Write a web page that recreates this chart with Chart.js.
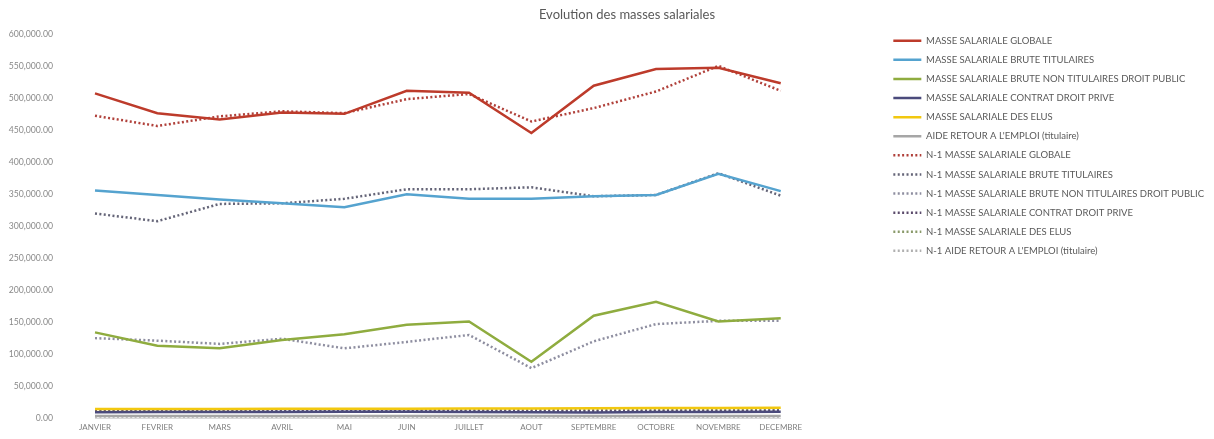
<!DOCTYPE html>
<html lang="fr">
<head>
<meta charset="UTF-8">
<title>Evolution des masses salariales</title>
<script src="https://cdn.jsdelivr.net/npm/chart.js"></script>
<style>
  html, body { margin: 0; padding: 0; background: #fff; }
  #wrap { position: relative; width: 1214px; height: 439px; }
</style>
</head>
<body>
<div id="wrap"><canvas id="myChart"></canvas></div>
<script>
const mois = ['JANVIER', 'FEVRIER', 'MARS', 'AVRIL', 'MAI', 'JUIN', 'JUILLET', 'AOUT', 'SEPTEMBRE', 'OCTOBRE', 'NOVEMBRE', 'DECEMBRE'];

// annee en cours
const globale = [508000, 477000, 467000, 478000, 476000, 512000, 509000, 446000, 520000, 546000, 548000, 524000];
const titulaires = [356000, 349000, 342000, 336000, 330000, 350000, 343000, 343000, 347000, 349000, 382000, 355000];
const nonTitulaires = [134000, 113000, 109000, 122000, 131000, 146000, 151000, 88000, 160000, 182000, 151000, 156000];
const contratPrive = [9000, 9400, 9200, 9400, 9800, 9600, 9300, 9000, 8800, 9200, 9500, 9800];
const elus = [14000, 14200, 14100, 14300, 14500, 14600, 14800, 15000, 15200, 15500, 15800, 16000];
const aideRetour = [3000, 3100, 3000, 3000, 3200, 3100, 3000, 3000, 3100, 3000, 3200, 3100];

// N-1
const globaleN1 = [473000, 457000, 472000, 480000, 477000, 499000, 507000, 464000, 485000, 511000, 551000, 512000];
const titulairesN1 = [320000, 308000, 335000, 336000, 343000, 358000, 358000, 361000, 347000, 349000, 383000, 348000];
const nonTitulairesN1 = [125000, 121000, 116000, 124000, 109000, 119000, 130000, 78000, 120000, 147000, 152000, 152000];
const contratPriveN1 = [11000, 11200, 10800, 10600, 10900, 11000, 10700, 10500, 10400, 10800, 11000, 11200];
const elusN1 = [12000, 12200, 12100, 12300, 12400, 12300, 12200, 12500, 12600, 12800, 13000, 13200];
const aideRetourN1 = [2500, 2500, 2400, 2500, 2600, 2500, 2400, 2500, 2500, 2600, 2500, 2500];

function serie(label, data, color, dotted) {
    return {
        label: label,
        data: data,
        borderColor: color,
        backgroundColor: color,
        borderWidth: 2.5,
        borderDash: dotted ? [2, 2.4] : [],
        pointRadius: 0,
        fill: false,
        tension: 0
    };
}

const police = "Lato, 'Open Sans', sans-serif";
const gris = '#595959';

// decale le titre un peu vers la droite
const decalageTitre = {
    id: 'decalageTitre',
    afterLayout(chart) {
        if (chart.titleBlock) {
            chart.titleBlock.left += 20;
            chart.titleBlock.right += 20;
        }
    }
};

const ctx = document.getElementById('myChart').getContext('2d');
const myChart = new Chart(ctx, {
    type: 'line',
    data: {
        labels: mois,
        datasets: [
            serie('MASSE SALARIALE GLOBALE', globale, '#bd3b2b', false),
            serie('MASSE SALARIALE BRUTE TITULAIRES', titulaires, '#55a3cf', false),
            serie('MASSE SALARIALE BRUTE NON TITULAIRES DROIT PUBLIC', nonTitulaires, '#8fac3f', false),
            serie('MASSE SALARIALE CONTRAT DROIT PRIVE', contratPrive, '#4b4b7c', false),
            serie('MASSE SALARIALE DES ELUS', elus, '#f2c80f', false),
            serie("AIDE RETOUR A L'EMPLOI (titulaire)", aideRetour, '#a6a6a6', false),
            serie('N-1 MASSE SALARIALE GLOBALE', globaleN1, '#b0403a', true),
            serie('N-1 MASSE SALARIALE BRUTE TITULAIRES', titulairesN1, '#656578', true),
            serie('N-1 MASSE SALARIALE BRUTE NON TITULAIRES DROIT PUBLIC', nonTitulairesN1, '#8e8ea0', true),
            serie('N-1 MASSE SALARIALE CONTRAT DROIT PRIVE', contratPriveN1, '#5b4b6b', true),
            serie('N-1 MASSE SALARIALE DES ELUS', elusN1, '#8a9a6a', true),
            serie("N-1 AIDE RETOUR A L'EMPLOI (titulaire)", aideRetourN1, '#b0b0b0', true)
        ]
    },
    plugins: [decalageTitre],
    options: {
        responsive: true,
        maintainAspectRatio: false,
        animation: false,
        layout: { padding: 0 },
        plugins: {
            title: {
                display: true,
                text: 'Evolution des masses salariales',
                color: gris,
                font: { family: police, size: 13, weight: 'normal', lineHeight: 1.2 },
                padding: { top: 7, bottom: 12 }
            },
            legend: {
                position: 'right',
                align: 'start',
                maxWidth: 331,
                title: { display: true, text: ' ', font: { size: 22, lineHeight: 1.2 }, padding: 0 },
                labels: {
                    usePointStyle: true,
                    pointStyle: 'line',
                    pointStyleWidth: 28,
                    padding: 9.6,
                    color: gris,
                    font: { family: police, size: 9.5 },
                    // reprend le trait (pointille ou plein) de chaque serie
                    generateLabels: chart => Chart.defaults.plugins.legend.labels.generateLabels(chart).map(item => {
                        const ds = chart.data.datasets[item.datasetIndex];
                        item.lineDash = ds.borderDash;
                        item.lineWidth = ds.borderWidth;
                        item.strokeStyle = ds.borderColor;
                        return item;
                    })
                }
            },
            tooltip: { enabled: false }
        },
        scales: {
            x: {
                offset: false,
                grid: { display: false, drawTicks: false },
                border: { display: true, color: '#d9d9d9' },
                afterFit: s => { s.height = 21; },
                ticks: {
                    color: '#7f7f7f',
                    font: { family: police, size: 8 },
                    maxRotation: 0,
                    autoSkip: false,
                    padding: 5
                }
            },
            y: {
                min: 0,
                max: 600000,
                grid: { display: false, drawTicks: false },
                border: { display: false },
                afterFit: s => {
                    s.width = 95;
                    s.paddingTop = 0;
                    s.paddingBottom = 0;
                },
                ticks: {
                    stepSize: 50000,
                    padding: 42,
                    color: '#8a8a8a',
                    font: { family: police, size: 8.7 },
                    callback: v => v.toLocaleString('en-US', { minimumFractionDigits: 2, maximumFractionDigits: 2 })
                }
            },
            // espace vide entre la zone de trace et la legende
            marge: {
                type: 'linear',
                position: 'right',
                display: true,
                grid: { display: false, drawTicks: false },
                border: { display: false },
                ticks: { display: false },
                afterFit: s => { s.width = 103; }
            }
        }
    }
});
</script>
</body>
</html>
